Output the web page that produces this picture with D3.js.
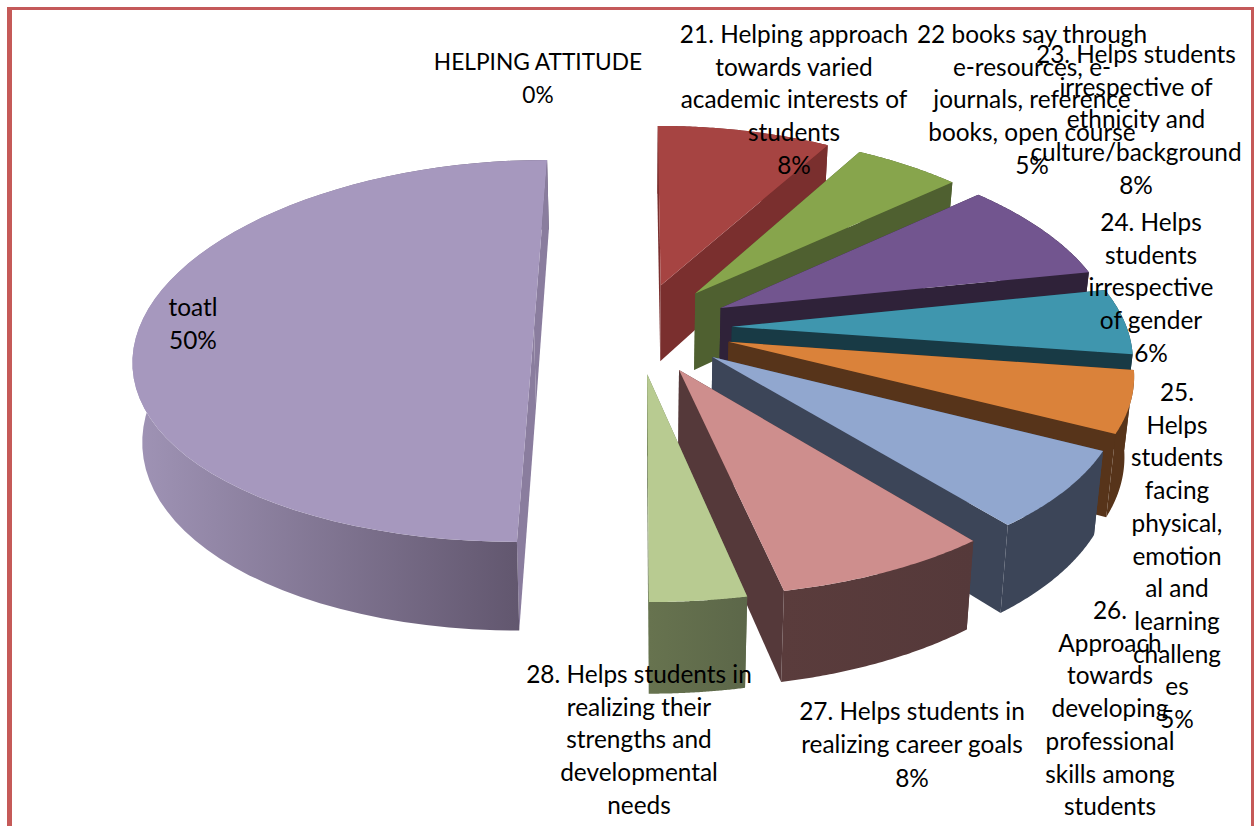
<!DOCTYPE html>
<html><head><meta charset="utf-8">
<script src="https://cdn.jsdelivr.net/npm/d3@7"></script>
<style>html,body{margin:0;padding:0;background:#fff;overflow:hidden}svg{display:block}text{font-family:Lato,"Open Sans",sans-serif;fill:#000}</style>
</head><body><svg id="c" width="1254" height="826"></svg>
<script>
const categories=["HELPING ATTITUDE","21","22","23","24","25","26","27","28","toatl"];
const shares=[0,8.3,5.1,8.4,5.5,5.2,6.7,7.5,3.3,50];
const topColors=["#4f81bd","#a64442","#87a54c","#72558f","#3f96ae","#da823a","#91a7cf","#ce8e8d","#b8cb91","#a698be"];
const wallColors=["#2f4d71","#7a2f2e","#4f6030","#2f2239","#183a45","#57341a","#3c4558","#55393a","#6b7a55","#8a7d9e"];
const outerLeft=["#2f4d71","#7a2f2e","#4f6030","#2f2239","#183a45","#57341a","#3c4558","#5a3c3c","#67734f","#a094b6"];
const outerRight=["#2f4d71","#7a2f2e","#4f6030","#2f2239","#183a45","#57341a","#3c4558","#55393a","#5c6749","#5d5269"];
const labelTexts=[
 ["HELPING ATTITUDE","0%"],
 ["21. Helping approach","towards varied","academic interests of","students","8%"],
 ["22 books say through","e-resources, e-","journals, reference","books, open course","5%"],
 ["23. Helps students","irrespective of","ethnicity and","culture/background","8%"],
 ["24. Helps","students","irrespective","of gender","6%"],
 ["25.","Helps","students","facing","physical,","emotion","al and","learning","challeng","es","5%"],
 ["26.","Approach","towards","developing","professional","skills among","students"],
 ["27. Helps students in","realizing career goals","8%"],
 ["28. Helps students in","realizing their","strengths and","developmental","needs"],
 ["toatl","50%"]];
const labelAnchors=[[538,61],[794,34],[1032,34],[1136,54],[1151,222],[1177,392],[1110,610],[912,711],[639,674],[193,307]];
const labelSizes=[22.7,24.4,24.4,24.4,24.4,24.4,24.4,24.4,24.4,24.4];
const labelLeads=[32.7,32.7,32.7,32.7,32.7,32.7,32.7,33.4,32.7,32.7];

const W=1254,H=826,xv=637,yv=-1240,Hh=1568,D=3290,R=395,E=95,E0=103,depth=78,taper=0.00025,xPow=1.2;
const svg=d3.select("#c");
svg.append("rect").attr("width",W).attr("height",H).attr("fill","#fff");
const defs=svg.append("defs");
svg.append("path").attr("d",`M9.5,826V8.5H1252.5V826`).attr("fill","none").attr("stroke","#c4595a").attr("stroke-width",3);
svg.append("rect").attr("x",7).attr("y",7).attr("width",5).attr("height",819).attr("fill","#c55a58");
svg.append("rect").attr("x",1251.5).attr("y",7).attr("width",2.5).attr("height",819).attr("fill","#c55a58");

function proj(X,Y,z){const s=D/(D-Y);return [xv+X*Math.pow(s,xPow)*(1-z*taper),yv+Hh*s+z*s];}
const pie=d3.pie().sort(null).value(d=>d).startAngle(0).endAngle(2*Math.PI);
const arcs=pie(shares);
const line=d3.line();
arcs.forEach((a,i)=>{
  if(a.value===0)return;
  const mid=(a.startAngle+a.endAngle)/2,e=a.value>=50?E0:E;
  const ox=e*Math.sin(mid),oy=-e*Math.cos(mid);
  const pt=(ang,r,z)=>proj(ox+r*Math.sin(ang),oy-r*Math.cos(ang),z);
  const angs=d3.range(0,61).map(k=>a.startAngle+(a.endAngle-a.startAngle)*k/60);
  const g=svg.append("g").attr("class","slice");
  const gid="wall"+i;
  const grad=defs.append("linearGradient").attr("id",gid).attr("x1",0).attr("x2",1).attr("y1",0).attr("y2",0);
  grad.append("stop").attr("offset",0).attr("stop-color",outerLeft[i]);
  grad.append("stop").attr("offset",1).attr("stop-color",outerRight[i]);
  const edge=ang=>[pt(ang,0,0),pt(ang,R,0),pt(ang,R,depth),pt(ang,0,depth)];
  g.append("path").attr("d",line(edge(a.startAngle))+"Z").attr("fill",wallColors[i]);
  const topArc=angs.map(t=>pt(t,R,0)),botArc=angs.map(t=>pt(t,R,depth)).reverse();
  g.append("path").attr("d",line(topArc.concat(botArc))+"Z").attr("fill",`url(#${gid})`);
  g.append("path").attr("d",line(edge(a.endAngle))+"Z").attr("fill",wallColors[i]);
  g.append("path").attr("d",line([pt(0,0,0)].concat(topArc))+"Z").attr("fill",topColors[i]);
});
labelTexts.forEach((ls,i)=>{
  const t=svg.append("text").attr("text-anchor","middle").attr("font-size",labelSizes[i]);
  ls.forEach((s,j)=>t.append("tspan").attr("x",labelAnchors[i][0]).attr("y",labelAnchors[i][1]+j*labelLeads[i]+9).text(s));
});
</script></body></html>
